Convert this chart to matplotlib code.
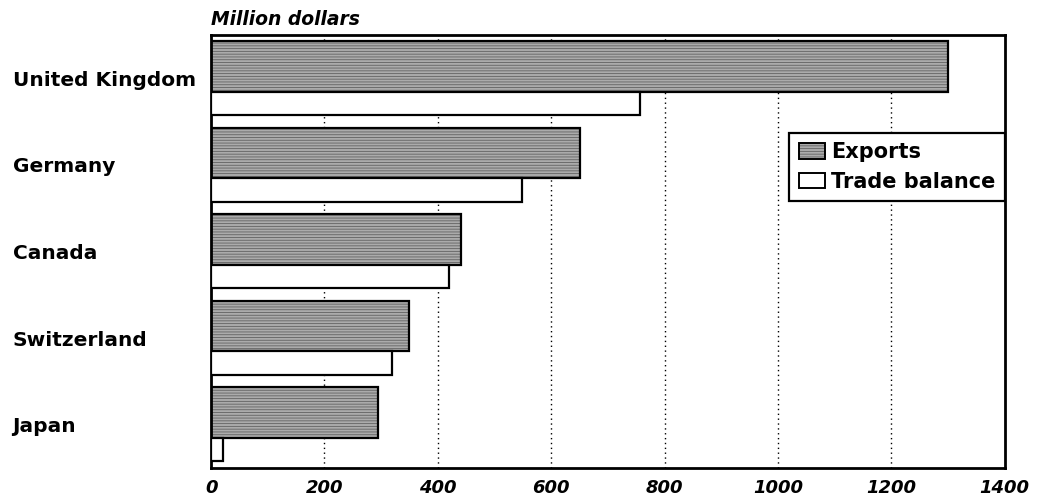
import matplotlib
matplotlib.use("Agg")
import matplotlib.pyplot as plt
from matplotlib.patches import Patch

categories = ["United Kingdom", "Germany", "Canada", "Switzerland", "Japan"]
exports = [1300, 650, 440, 349, 294]
trade_balance = [757, 549, 420, 320, 21]
xticks = [0, 200, 400, 600, 800, 1000, 1200, 1400]

plt.rcParams['font.family'] = ['DejaVu Sans']
plt.rcParams['hatch.linewidth'] = 0.6

fig = plt.figure(figsize=(10.4, 5.01), dpi=100)
ax = fig.add_axes([0.203, 0.066, 0.763, 0.864])

pos = list(range(len(categories)))
exp_c = [p - 0.1375 for p in pos]
tb_c = [p + 0.29 for p in pos]

fill_col = '#ababab'
hatch_col = '#626262'
ax.barh(exp_c, exports, height=0.585, color=fill_col, edgecolor=hatch_col,
        linewidth=0, hatch='------', zorder=2)
ax.barh(exp_c, exports, height=0.585, fill=False, edgecolor='black',
        linewidth=1.6, zorder=3)
ax.barh(tb_c, trade_balance, height=0.27, color='white', edgecolor='black',
        linewidth=1.6, zorder=3)

ax.set_xlim(0, 1400)
ax.set_ylim(4.5, -0.5)
ax.set_xticks(xticks)
ax.set_xticklabels([str(v) for v in xticks], fontsize=13, fontweight='bold',
                   fontstyle='italic')
ax.set_yticks(pos)
ax.set_yticklabels(categories, fontsize=14.5, fontweight='bold', ha='left')
ax.tick_params(axis='y', length=0, pad=143)
ax.tick_params(axis='x', length=0, pad=8)

for v in xticks[1:-1]:
    ax.axvline(v, color='black', linestyle=(0, (1, 2.5)), linewidth=1.0, zorder=1)

for s in ax.spines.values():
    s.set_linewidth(2)
    s.set_color('black')

ax.text(0.0, 1.015, "Million dollars", transform=ax.transAxes, fontsize=13.5,
        fontweight='bold', fontstyle='italic', ha='left', va='bottom')

h1 = (Patch(facecolor=fill_col, edgecolor=hatch_col, hatch='------', linewidth=0),
      Patch(fill=False, edgecolor='black', linewidth=1.4))
h2 = Patch(facecolor='white', edgecolor='black', linewidth=1.4)
leg = ax.legend([h1, h2], ["Exports", "Trade balance"], loc='upper right',
                bbox_to_anchor=(1.0, 0.774), fancybox=False, framealpha=1,
                edgecolor='black', prop={'size': 15, 'weight': 'bold'},
                handlelength=1.25, handleheight=0.75, handletextpad=0.3,
                borderpad=0.45, labelspacing=0.45, borderaxespad=0)
leg.get_frame().set_linewidth(1.6)
leg.set_zorder(5)

fig.savefig("out.png", dpi=100)
